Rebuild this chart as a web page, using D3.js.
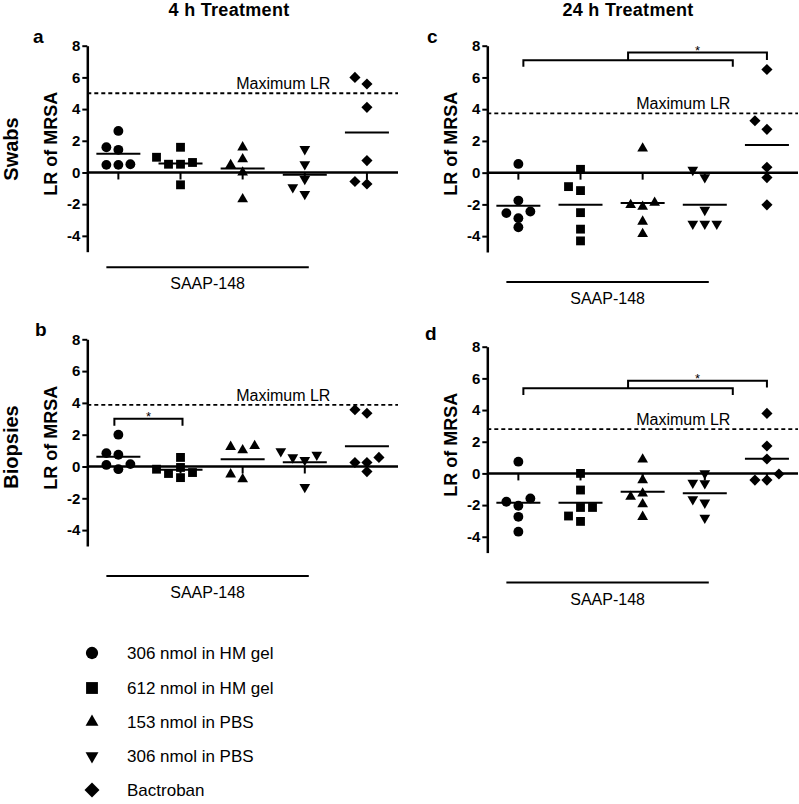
<!DOCTYPE html>
<html><head><meta charset="utf-8">
<script src="https://cdn.jsdelivr.net/npm/d3@7"></script>
<style>
body{margin:0;background:#fff}
svg text{font-family:"Liberation Sans",Arial,Helvetica,sans-serif;fill:#000}
</style>
</head><body>
<svg id="chart" width="799" height="804"></svg>
<script>
// ---------------- data ----------------
const groups = ["306 nmol in HM gel","612 nmol in HM gel","153 nmol in PBS","306 nmol in PBS","Bactroban"];
const yTicks = [-4,-2,0,2,4,6,8];
const yDomain = [-5, 8];
const colTitles = ["4 h Treatment","24 h Treatment"];
const rowLabels = ["Swabs","Biopsies"];
const panelLetters = ["a","b","c","d"];
const yTitle = "LR of MRSA";
const maxLabel = "Maximum LR";
const groupLabel = "SAAP-148";
const maxLR = [5.0, 3.88, 3.73, 2.8];           // panels a, b, c, d

const panelA = [
  [2.62,1.59,1.43,0.52,0.48,0.48],
  [1.59,0.96,0.52,0.52,0.63,-0.78],
  [1.59,0.84,0.48,0.0,-1.68],
  [1.47,0.52,-0.42,-0.94,-1.36],
  [6.0,5.58,4.11,0.75,-0.73,-0.57]
];
const panelB = [
  [2.0,0.84,0.74,0.15,0.1,-0.17],
  [0.57,-0.38,-0.06,-0.17,-0.70,-0.44],
  [1.24,1.03,1.29,-0.80,-0.49],
  [0.57,0.95,0.40,0.74,-1.29],
  [3.35,3.57,0.25,0.57,0.25,-0.32]
];
const panelC = [
  [0.55,-1.76,-2.45,-2.55,-2.87,-3.44],
  [0.21,-1.13,-0.88,-2.52,-3.56,-4.30],
  [1.53,-2.03,-2.14,-1.89,-3.08,-3.86],
  [0.17,-0.29,-2.35,-3.23,-3.23,-3.23],
  [6.5,3.27,2.73,0.34,-0.31,-2.03]
];
const panelD = [
  [0.74,-2.04,-1.79,-1.58,-2.74,-3.68],
  [0.0,-1.05,-2.15,-2.15,-3.03,-2.69],
  [0.88,-0.42,-1.26,-1.47,-1.94,-2.74],
  [0.0,-0.62,-0.59,-1.64,-1.85,-2.8],
  [3.79,1.73,0.91,-0.04,-0.42,-0.42]
];
// significance brackets (group indices, heights in data units)
const bracketsB = [{from:0, to:1, y:3.0, leg:2.57}];
const bracketsC = {lowFrom:0, lowTo:3, low:7.09, lowLeg:6.67, high:7.57, highLeg:7.1};
const bracketsD = {lowFrom:0, lowTo:3, low:5.37, lowLeg:4.95, high:5.85, highLeg:5.43};

// ---------------- layout ----------------
const svg = d3.select("#chart");
const panels = [
  {data:panelA, max:maxLR[0], x0:87.3, x1:398, yTop:45.7, yBot:251.7, gap:15.5, letter:[33,43]},
  {data:panelB, max:maxLR[1], x0:87.3, x1:398, yTop:339.3, yBot:546, gap:30, letter:[35,336]},
  {data:panelC, max:maxLR[2], x0:487.3, x1:798, yTop:45.7, yBot:252, gap:30, letter:[427,43]},
  {data:panelD, max:maxLR[3], x0:487.3, x1:798, yTop:346.7, yBot:552.6, gap:30, letter:[425,340]}
];

const symTypes = [d3.symbolCircle, d3.symbolSquare, d3.symbolTriangle, d3.symbolTriangle, d3.symbolSquare];
const symRot = [0,0,0,180,45];
const symSize = [76, 78, 50, 50, 62];
const legSize = [118, 140, 72, 72, 112];

// titles
colTitles.forEach((t,i)=>{
  svg.append("text").attr("x", i===0?229:628).attr("y",16)
    .attr("text-anchor","middle").style("font-weight","bold").style("font-size","18px")
    .style("letter-spacing","0.3px").text(t);
});
// row labels
rowLabels.forEach((t,i)=>{
  svg.append("text").attr("transform",`translate(18,${i===0?149:447}) rotate(-90)`)
    .attr("text-anchor","middle").style("font-weight","bold").style("font-size","20px").text(t);
});

panels.forEach((p,pi)=>{
  const g = svg.append("g");
  const y = d3.scaleLinear().domain(yDomain).range([p.yBot, p.yTop]);
  const x = d3.scalePoint().domain(d3.range(groups.length)).range([p.x0, p.x1]).padding(0.5);

  // letter
  g.append("text").attr("x",p.letter[0]).attr("y",p.letter[1])
    .style("font-weight","bold").style("font-size","19px").text(panelLetters[pi]);

  // y axis
  const ax = g.append("g").attr("transform",`translate(${p.x0},0)`)
    .call(d3.axisLeft(y).tickValues(yTicks).tickSize(5).tickPadding(2).tickSizeOuter(0).tickFormat(d=>String(d)));
  ax.attr("font-family",null).attr("font-size",null);
  ax.select(".domain").attr("stroke","#000").attr("stroke-width",2.5);
  ax.selectAll(".tick line").attr("stroke","#000").attr("stroke-width",2);
  ax.selectAll(".tick text").attr("font-weight","bold").style("font-weight","bold").style("font-size","15px")
    .style("font-family",'"Liberation Sans",Arial,sans-serif').attr("fill","#000");

  // y title
  g.append("text").attr("transform",`translate(${p.x0-30},${(p.yTop+p.yBot)/2-5}) rotate(-90)`)
    .attr("text-anchor","middle").style("font-weight","bold").style("font-size","18px").text(yTitle);

  // zero line (x axis) + ticks
  g.append("line").attr("x1",p.x0).attr("x2",p.x1).attr("y1",y(0)).attr("y2",y(0))
    .attr("stroke","#000").attr("stroke-width",2.5);
  g.selectAll(".xt").data(d3.range(groups.length)).join("line")
    .attr("x1",d=>x(d)).attr("x2",d=>x(d)).attr("y1",y(0)).attr("y2",y(0)+7)
    .attr("stroke","#000").attr("stroke-width",2);

  // maximum LR
  g.append("line").attr("x1",p.x0).attr("x2",p.x1).attr("y1",y(p.max)).attr("y2",y(p.max))
    .attr("stroke","#000").attr("stroke-width",1.8).attr("stroke-dasharray","4,3");
  g.append("text").attr("x",p.x0+196).attr("y",y(p.max)-4).attr("text-anchor","middle")
    .style("font-size","16px").text(maxLabel);

  // points with a simple beeswarm dodge
  const step = 12, thr = 9;
  p.data.forEach((vals,gi)=>{
    const placed = [];
    const sorted = vals.slice().sort((a,b)=>a-b);
    sorted.forEach(v=>{
      const py = y(v);
      const cands = [0,-1,1,-2,2,-3,3];
      let lane = 0;
      for (const c of cands){
        if (!placed.some(q=>q.lane===c && Math.abs(q.py-py)<thr)){ lane=c; break; }
      }
      placed.push({v, py, lane});
    });
    const sym = d3.symbol().type(symTypes[gi]).size(symSize[gi]);
    g.selectAll(null).data(placed).join("path")
      .attr("d", sym)
      .attr("transform", d=>`translate(${x(gi)+d.lane*step},${d.py}) rotate(${symRot[gi]})`)
      .attr("fill","#000");
    const m = d3.mean(vals);
    g.append("line").attr("x1",x(gi)-22).attr("x2",x(gi)+22).attr("y1",y(m)).attr("y2",y(m))
      .attr("stroke","#000").attr("stroke-width",2);
  });

  // SAAP-148 group line
  const ly = p.yBot + p.gap;
  const lx1 = x(0)-12, lx2 = x(3)+4;
  g.append("line").attr("x1",lx1).attr("x2",lx2).attr("y1",ly).attr("y2",ly)
    .attr("stroke","#000").attr("stroke-width",2);
  g.append("text").attr("x",(lx1+lx2)/2).attr("y",ly+22).attr("text-anchor","middle")
    .style("font-size","16px").text(groupLabel);

  // brackets
  const bl = (pts)=>g.append("path").attr("d",d3.line()(pts)).attr("fill","none")
    .attr("stroke","#000").attr("stroke-width",2);
  const star = (sx,sy)=>g.append("text").attr("x",sx).attr("y",sy+2).attr("text-anchor","middle")
    .style("font-size","13px").text("*");
  if (pi===1){
    bracketsB.forEach(b=>{
      const a1=x(b.from)-4, a2=x(b.to)+2;
      bl([[a1,y(b.leg)],[a1,y(b.y)],[a2,y(b.y)],[a2,y(b.leg)]]);
      star((a1+a2)/2, y(b.y));
    });
  }
  if (pi===2 || pi===3){
    const b = pi===2 ? bracketsC : bracketsD;
    const a1 = x(b.lowFrom)+5, a2 = x(b.lowTo)+28;
    bl([[a1,y(b.lowLeg)],[a1,y(b.low)],[a2,y(b.low)],[a2,y(b.lowLeg)]]);
    const mid = (a1+a2)/2, r = x(4);
    bl([[mid,y(b.low)],[mid,y(b.high)],[r,y(b.high)],[r,y(b.highLeg)]]);
    star((mid+r)/2, y(b.high));
  }
});

// legend
const legY = [653,688,722,756,790];
groups.forEach((name,i)=>{
  svg.append("path").attr("d", d3.symbol().type(symTypes[i]).size(legSize[i]))
    .attr("transform",`translate(92,${legY[i]}) rotate(${symRot[i]})`).attr("fill","#000");
  svg.append("text").attr("x",127).attr("y",legY[i]+6).style("font-size","17px").text(name);
});
</script>
</body></html>
